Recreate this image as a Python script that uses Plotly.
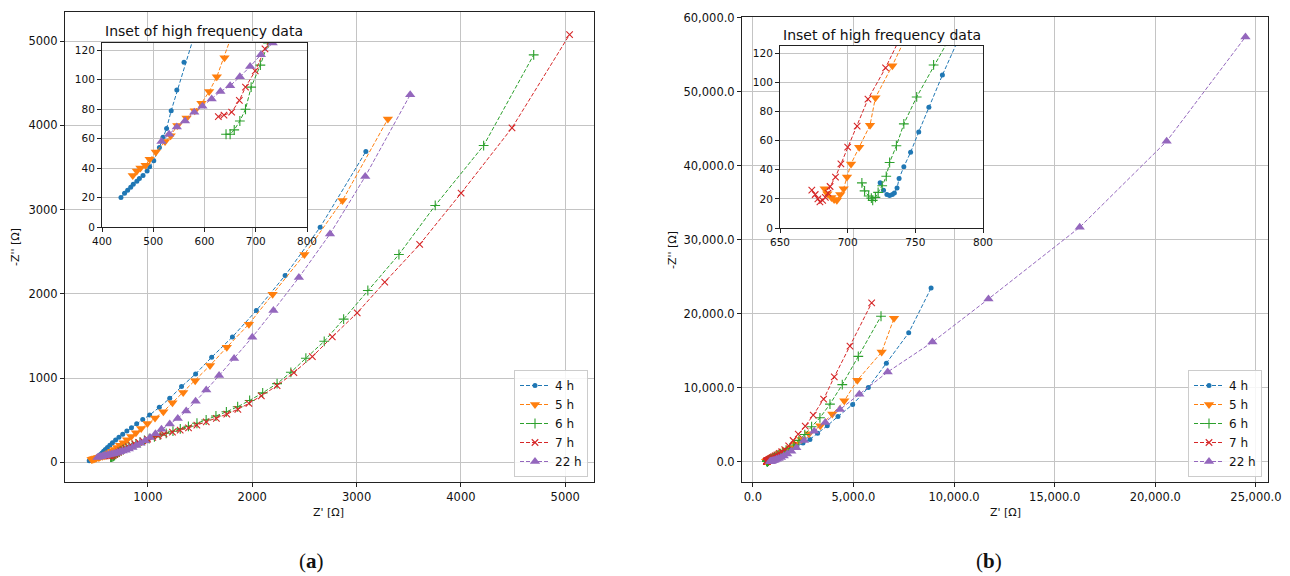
import plotly.graph_objects as go

# ---------------- Panel (a): Nyquist data ----------------
series_names = ["4 h", "5 h", "6 h", "7 h", "22 h"]

a_4h_x = [437, 444, 450, 456, 461, 468, 473, 480, 488, 493, 501, 512, 519, 526, 535, 546, 560, 575, 592, 612,
          635, 660, 690, 722, 758, 798, 842, 892, 950, 1016, 1109, 1209, 1322, 1457, 1611, 1810, 2039, 2315,
          2651, 3089]
a_4h_y = [20, 23, 25, 27, 29, 31, 33, 35, 38, 41, 45, 54, 61, 67, 79, 93, 112, 131, 152, 176,
          203, 232, 264, 297, 333, 371, 412, 457, 508, 562, 653, 760, 899, 1050, 1248, 1489, 1802, 2218,
          2791, 3689]

a_5h_x = [460, 468, 475, 485, 493, 505, 523, 534, 547, 565, 581, 594, 609, 624, 639, 658, 680, 705, 733, 765,
          800, 840, 885, 935, 995, 1068, 1148, 1235, 1338, 1453, 1595, 1756, 1968, 2195, 2500, 2865, 3300]
a_5h_y = [35, 38, 40, 42, 46, 51, 58, 62, 69, 74, 79, 84, 92, 102, 115, 132, 152, 176, 203, 234,
          268, 307, 352, 403, 462, 527, 602, 709, 828, 970, 1149, 1366, 1640, 1995, 2467, 3108, 4075]

a_6h_x = [642, 650, 658, 669, 680, 691, 709, 724, 742, 765, 790, 818, 850, 885, 924, 966, 1012, 1062, 1116,
          1175, 1240, 1310, 1388, 1470, 1558, 1652, 1752, 1860, 1975, 2100, 2238, 2370, 2514, 2690, 2876,
          3108, 3406, 3754, 4218, 4698]
a_6h_y = [63, 63, 66, 72, 80, 95, 110, 125, 138, 153, 168, 184, 202, 220, 240, 260, 281, 302, 323,
          345, 370, 397, 428, 464, 503, 550, 600, 660, 735, 825, 935, 1069, 1236, 1437, 1700,
          2040, 2467, 3049, 3760, 4836]

a_7h_x = [627, 638, 653, 668, 680, 699, 718, 738, 760, 785, 812, 842, 875, 912, 952, 997, 1046, 1098, 1154,
          1235, 1309, 1389, 1469, 1559, 1656, 1756, 1862, 1968, 2087, 2238, 2399, 2576, 2767, 3006, 3270,
          3605, 4002, 4490, 5042]
a_7h_y = [75, 76, 78, 86, 95, 106, 121, 136, 151, 167, 183, 200, 218, 237, 256, 276, 296, 316, 337,
          360, 383, 410, 442, 480, 522, 572, 630, 700, 790, 910, 1065, 1255, 1490, 1775, 2139,
          2586, 3195, 3970, 5077]

a_22h_x = [516, 531, 546, 562, 580, 596, 614, 631, 650, 669, 689, 710, 733, 758, 786, 817, 851, 888, 928,
           972, 1020, 1072, 1130, 1209, 1286, 1367, 1457, 1559, 1682, 1826, 2000, 2203, 2447, 2745, 3083, 3514]
a_22h_y = [58, 63, 68, 72, 78, 82, 87, 92, 96, 102, 109, 117, 125, 134, 145, 159, 177, 199, 226,
           258, 296, 340, 392, 455, 522, 610, 725, 859, 1030, 1232, 1485, 1802, 2194, 2710, 3393, 4362]

# ---------------- Panel (b): Nyquist data ----------------
b_4h_x = [724, 726.5, 729, 731, 733, 734.5, 736.5, 738, 741.5, 746.5, 752.5, 760, 770, 782, 797, 816, 840,
          870, 907, 952, 1008, 1076, 1160, 1262, 1385, 1535, 1715, 1930, 2185, 2490, 2836, 3217, 3698,
          4229, 4959, 5738, 6634, 7745, 8856]
b_4h_y = [31, 26, 23, 22.4, 23, 24, 27.4, 34, 42, 52, 66, 83, 105, 130, 160, 196, 240,
          292, 354, 428, 515, 615, 735, 875, 1040, 1235, 1470, 1750, 2090, 2510, 3000, 3830, 4843,
          6099, 7713, 10000, 13274, 17399, 23453]

b_5h_x = [683, 685, 688, 690, 692, 694.5, 697, 699.5, 702.5, 708.5, 716.5, 720.5, 733, 745, 760, 780, 805,
          836, 874, 920, 976, 1044, 1126, 1225, 1345, 1490, 1665, 1875, 2125, 2420, 2790, 3350, 3947,
          4544, 5191, 6401, 7015]
b_5h_y = [27, 23.5, 21, 19.5, 19, 23, 27, 35, 44, 55.5, 70.5, 89.5, 111.5, 135, 162, 197, 240,
          292, 355, 430, 520, 628, 755, 905, 1085, 1300, 1560, 1880, 2380, 3000, 3750, 4843, 6413,
          8206, 10987, 14798, 19372]

b_6h_x = [710.5, 712.5, 715.5, 717.5, 718.5, 720.5, 722.5, 725.5, 728.5, 731, 736, 741.5, 751, 763.5, 776,
          792, 812, 837, 868, 906, 952, 1008, 1075, 1155, 1250, 1362, 1495, 1650, 1830, 2040, 2290,
          2580, 2919, 3333, 3831, 4444, 5240, 6368]
b_6h_y = [31, 25.5, 22, 20.5, 19, 21, 24.5, 29, 35.5, 45, 56.5, 71.5, 90, 112, 135,
          165, 202, 247, 300, 362, 437, 525, 628, 750, 893, 1062, 1265, 1510, 1810, 2250, 2870,
          3650, 4709, 5919, 7758, 10404, 14215, 19641]

b_7h_x = [673.5, 676, 678, 679.5, 681.5, 683.5, 685.5, 687, 691, 695, 700, 707, 715, 728, 740, 755, 774,
          798, 828, 865, 910, 965, 1030, 1108, 1200, 1308, 1435, 1585, 1780, 2000, 2255, 2604, 3002,
          3516, 4046, 4826, 5904]
b_7h_y = [26, 23, 20, 18, 19, 21, 24, 28.5, 35, 44, 55.5, 70, 88.5, 110, 132, 160, 195,
          238, 290, 352, 428, 520, 630, 762, 918, 1105, 1330, 1610, 2120, 2850, 3722, 4798, 6278,
          8430, 11435, 15605, 21435]

b_22h_x = [850, 875, 905, 940, 985, 1040, 1105, 1185, 1280, 1395, 1535, 1705, 1910, 2160, 2540, 3050,
           3599, 4328, 5290, 6700, 8922, 11708, 16243, 20563, 24480]
b_22h_y = [10, 15, 30, 55, 95, 150, 220, 310, 420, 560, 740, 1010, 1380, 1880, 2850, 4100,
           5291, 7040, 9103, 12108, 16143, 21973, 31662, 43284, 57392]

panel_a = [(a_4h_x, a_4h_y), (a_5h_x, a_5h_y), (a_6h_x, a_6h_y), (a_7h_x, a_7h_y), (a_22h_x, a_22h_y)]
panel_b = [(b_4h_x, b_4h_y), (b_5h_x, b_5h_y), (b_6h_x, b_6h_y), (b_7h_x, b_7h_y), (b_22h_x, b_22h_y)]

colors = ["#1f77b4", "#ff7f0e", "#2ca02c", "#d62728", "#9467bd"]
markers = [
    dict(symbol="circle", size=5, line=dict(width=0)),
    dict(symbol="triangle-down", size=9, line=dict(width=0)),
    dict(symbol="cross-thin", size=7, line=dict(width=1.1)),
    dict(symbol="x-thin", size=6.5, line=dict(width=1.1)),
    dict(symbol="triangle-up", size=9, line=dict(width=0)),
]

W, H = 1290, 576
FONT = "DejaVu Sans"


def xdom(left, right):
    return [left / W, right / W]


def ydom(top, bottom):
    return [1 - bottom / H, 1 - top / H]


def px(xp, yp):
    return xp / W, 1 - yp / H


fig = go.Figure()


def add_panel(data, main_axes, inset_axes, legend_name):
    for i, (xs, ys) in enumerate(data):
        mk = dict(markers[i])
        mk["color"] = colors[i]
        mk["line"] = dict(mk["line"], color=colors[i])
        for (xa, ya), show in ((main_axes, True), (inset_axes, False)):
            fig.add_trace(go.Scatter(
                x=xs, y=ys, mode="lines+markers", name=series_names[i],
                line=dict(color=colors[i], width=1, dash="4px,2px"),
                marker=mk, xaxis=xa, yaxis=ya, showlegend=show,
                legend=legend_name, legendgroup=legend_name + str(i),
            ))


add_panel(panel_a, ("x", "y"), ("x2", "y2"), "legend")
add_panel(panel_b, ("x3", "y3"), ("x4", "y4"), "legend2")


def axis(**kw):
    base = dict(showline=True, mirror=True, linecolor="#222", linewidth=1,
                ticks="outside", ticklen=4, tickwidth=1, tickcolor="#222",
                showgrid=True, gridcolor="#c4c4c4", gridwidth=1, zeroline=False,
                automargin=False,
                tickfont=dict(family=FONT, size=11.5, color="#111"))
    base.update(kw)
    return base


inset_font = dict(family=FONT, size=10.5, color="#111")
lx1, ly1 = px(588, 477)
lx2, ly2 = px(1262, 477)

fig.update_layout(
    width=W, height=H, autosize=False,
    margin=dict(l=0, r=0, t=0, b=0, autoexpand=False),
    paper_bgcolor="white", plot_bgcolor="white",
    font=dict(family=FONT, color="#111"),
    # panel (a) main
    xaxis=axis(domain=xdom(65, 594), range=[205, 5276], dtick=1000, tick0=0, anchor="y"),
    yaxis=axis(domain=ydom(12, 482), range=[-233, 5345], dtick=1000, tick0=0, anchor="x"),
    # panel (a) inset
    xaxis2=axis(domain=xdom(102, 307), range=[400, 800], dtick=100, tick0=0, anchor="y2",
                tickfont=inset_font),
    yaxis2=axis(domain=ydom(43, 227), range=[0, 125], dtick=20, tick0=0, anchor="x2",
                tickfont=inset_font),
    # panel (b) main
    xaxis3=axis(domain=xdom(742, 1268), range=[-540, 25600], dtick=5000, tick0=0,
                tickformat=",.1f", anchor="y3"),
    yaxis3=axis(domain=ydom(17, 482), range=[-2760, 60080], dtick=10000, tick0=0,
                tickformat=",.1f", anchor="x3"),
    # panel (b) inset
    xaxis4=axis(domain=xdom(780, 983), range=[650, 800], dtick=50, tick0=0, anchor="y4",
                tickfont=inset_font),
    yaxis4=axis(domain=ydom(46, 228), range=[0, 125], dtick=20, tick0=0, anchor="x4",
                tickfont=inset_font),
    legend=dict(x=lx1, y=ly1, xanchor="right", yanchor="bottom",
                bgcolor="rgba(255,255,255,0.85)", bordercolor="#cccccc", borderwidth=1,
                font=dict(family=FONT, size=12, color="#111"), itemwidth=30,
                tracegroupgap=0),
    legend2=dict(x=lx2, y=ly2, xanchor="right", yanchor="bottom",
                 bgcolor="rgba(255,255,255,0.85)", bordercolor="#cccccc", borderwidth=1,
                 font=dict(family=FONT, size=12, color="#111"), itemwidth=30,
                 tracegroupgap=0),
)

annotations = []


def label(text, xp, yp, size=11, angle=0, family=FONT, **kw):
    x, y = px(xp, yp)
    annotations.append(dict(text=text, x=x, y=y, xref="paper", yref="paper",
                            showarrow=False, textangle=angle,
                            font=dict(family=family, size=size, color="#111"),
                            xanchor="center", yanchor="middle", **kw))


# axis titles
label("Z' [Ω]", 329, 512)
label("Z' [Ω]", 1005, 512)
label("-Z'' [Ω]", 15, 247, angle=-90)
label("-Z'' [Ω]", 672, 250, angle=-90)
# inset titles
label("Inset of high frequency data", 204.5, 31, size=14)
label("Inset of high frequency data", 881.5, 35, size=14)
# panel captions
label("(<b>a</b>)", 311, 561, size=21, family="Liberation Serif")
label("(<b>b</b>)", 989, 561, size=21, family="Liberation Serif")

fig.update_layout(annotations=annotations)

fig.write_html("out.html")
